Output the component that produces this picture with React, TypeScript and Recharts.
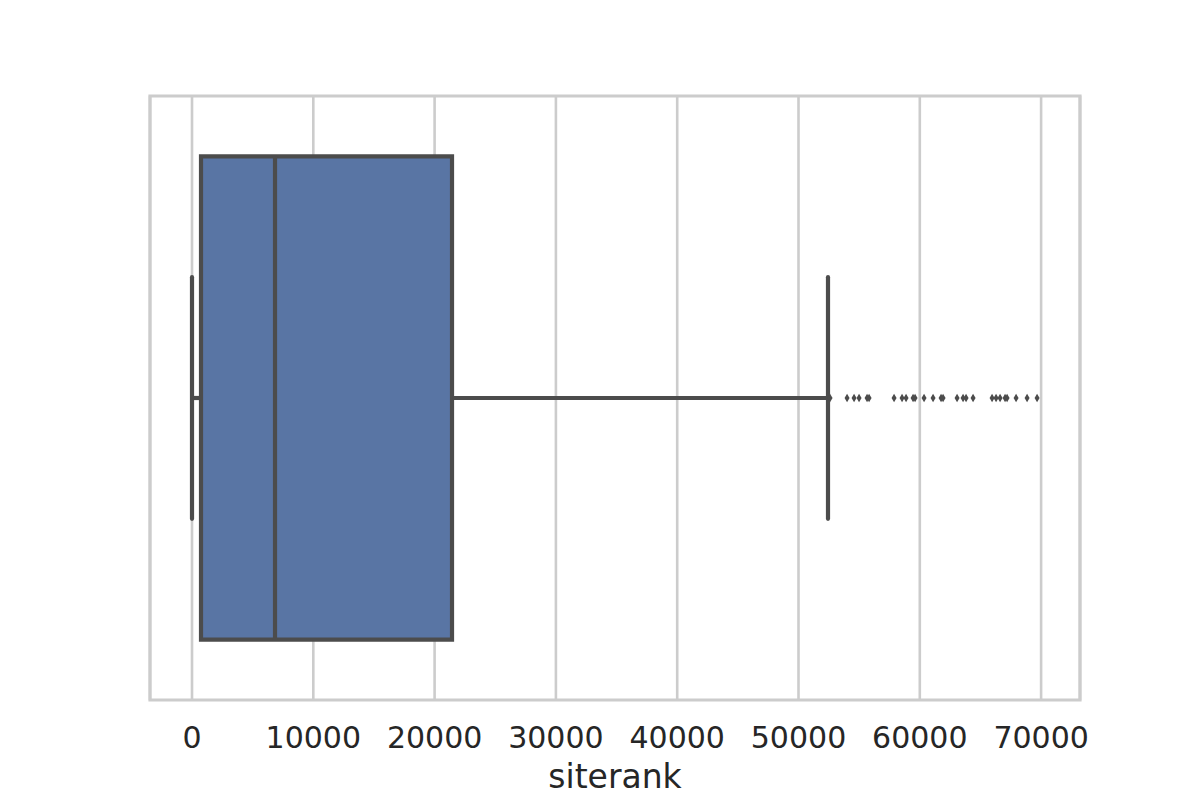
import React from 'react';
import {
  ComposedChart,
  XAxis,
  YAxis,
  CartesianGrid,
  ReferenceArea,
  ReferenceLine,
  Scatter,
} from 'recharts';

// Box statistics for "siterank"
const boxStats = { lowerWhisker: 0, q1: 742, median: 6843, q3: 21435, upperWhisker: 52432 };
const outlierValues = [
  52600, 54003, 54580, 54992, 55652, 55817, 57878, 58537, 58867, 59444, 59609, 60351, 61093,
  61753, 61918, 63072, 63567, 63814, 64391, 65958, 66287, 66617, 67030, 67195, 67937, 68844, 69668,
];
const xTicks = [0, 10000, 20000, 30000, 40000, 50000, 60000, 70000];
const xDomain = [-3463, 73207];
const axisLabel = 'siterank';

const outlierData = outlierValues.map((v) => ({ x: v, y: 0 }));

const LINE = '#4c4c4c';
const GRID = '#cccccc';
const FONT = 'DejaVu Sans, sans-serif';
const LW = 4.2;

const Diamond = (props: any) => {
  const { cx, cy } = props;
  if (cx == null || cy == null) return null;
  const w = 2.5;
  const h = 4.3;
  return (
    <path
      d={`M${cx},${cy - h} L${cx + w},${cy} L${cx},${cy + h} L${cx - w},${cy} Z`}
      fill={LINE}
      stroke="none"
    />
  );
};

const Tick = (props: any) => {
  const { x, y, payload } = props;
  return (
    <text x={x} y={y} textAnchor="middle" fill="#262626" fontSize={30} fontFamily={FONT}>
      {payload.value}
    </text>
  );
};

const AxisLabel = (props: any) => {
  const vb = props.viewBox || {};
  return (
    <text
      x={vb.x + vb.width / 2}
      y={vb.y + 88}
      textAnchor="middle"
      fill="#262626"
      fontSize={33}
      fontFamily={FONT}
    >
      {axisLabel}
    </text>
  );
};

export default function App() {
  const s = boxStats;
  return (
    <div style={{ position: 'absolute', left: 0, top: 0, width: 1200, height: 800, background: '#fff' }}>
      <ComposedChart
        width={1200}
        height={800}
        margin={{ top: 96, right: 120, left: 150, bottom: 0 }}
      >
        <CartesianGrid horizontal={false} stroke={GRID} strokeWidth={2.6} />
        <XAxis
          type="number"
          dataKey="x"
          domain={xDomain}
          ticks={xTicks}
          interval={0}
          allowDataOverflow
          height={100}
          axisLine={false}
          tickLine={false}
          tickSize={0}
          tickMargin={48}
          tick={<Tick />}
          label={<AxisLabel />}
        />
        <YAxis type="number" dataKey="y" domain={[-0.5, 0.5]} hide width={0} />
        <ReferenceArea
          x1={xDomain[0]}
          x2={xDomain[1]}
          y1={-0.5}
          y2={0.5}
          fill="none"
          fillOpacity={0}
          stroke={GRID}
          strokeWidth={3.2}
          ifOverflow="visible"
        />
        <ReferenceLine
          segment={[{ x: s.lowerWhisker, y: 0 }, { x: s.q1, y: 0 }]}
          stroke={LINE}
          strokeWidth={LW}
        />
        <ReferenceLine
          segment={[{ x: s.q3, y: 0 }, { x: s.upperWhisker, y: 0 }]}
          stroke={LINE}
          strokeWidth={LW}
        />
        <ReferenceLine
          segment={[{ x: s.lowerWhisker, y: -0.2 }, { x: s.lowerWhisker, y: 0.2 }]}
          stroke={LINE}
          strokeWidth={LW}
          strokeLinecap="round"
        />
        <ReferenceLine
          segment={[{ x: s.upperWhisker, y: -0.2 }, { x: s.upperWhisker, y: 0.2 }]}
          stroke={LINE}
          strokeWidth={LW}
          strokeLinecap="round"
        />
        <ReferenceArea
          x1={s.q1}
          x2={s.q3}
          y1={-0.4}
          y2={0.4}
          fill="#5975a4"
          fillOpacity={1}
          stroke={LINE}
          strokeWidth={LW}
        />
        <ReferenceLine
          segment={[{ x: s.median, y: -0.4 }, { x: s.median, y: 0.4 }]}
          stroke={LINE}
          strokeWidth={LW}
        />
        <Scatter data={outlierData} shape={<Diamond />} isAnimationActive={false} />
      </ComposedChart>
    </div>
  );
}
